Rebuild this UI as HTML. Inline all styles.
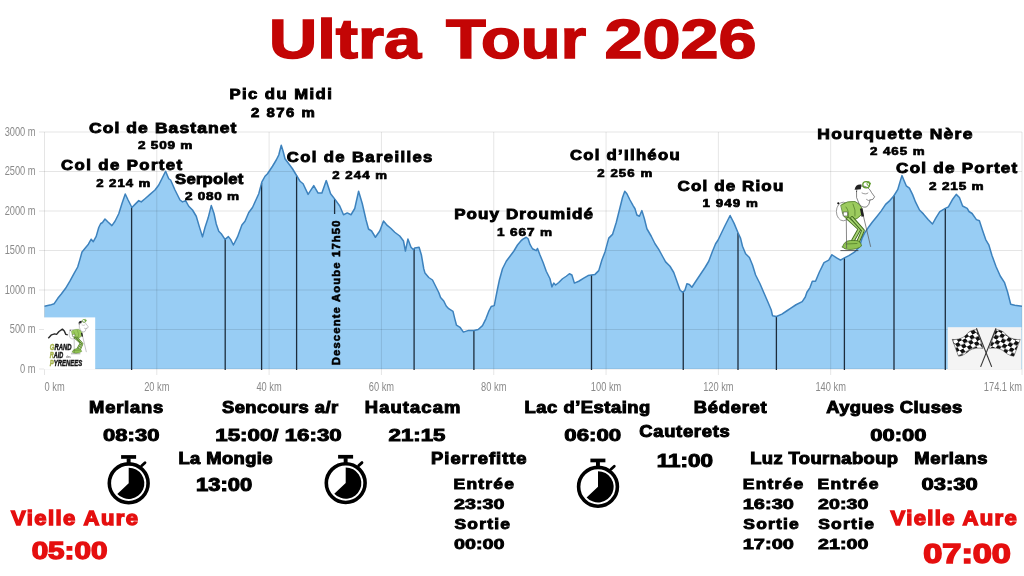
<!DOCTYPE html>
<html><head><meta charset="utf-8"><style>
html,body{margin:0;padding:0;background:#fff;}
body{width:1024px;height:576px;overflow:hidden;position:relative;font-family:"Liberation Sans",sans-serif;}
svg{position:absolute;left:0;top:0;filter:blur(0.4px);}
</style></head><body>
<svg width="1024" height="576" viewBox="0 0 1024 576">
<path d="M44.50,306.20 L50.00,305.10 L54.20,303.70 L57.80,298.30 L61.30,294.00 L65.60,288.30 L69.90,281.20 L74.10,273.40 L77.70,267.00 L79.80,259.90 L82.00,252.00 L85.50,247.80 L88.40,244.20 L91.20,239.20 L93.30,241.70 L96.20,236.40 L98.75,227.50 L100.60,223.75 L102.50,222.50 L105.00,219.00 L108.00,222.00 L111.90,225.60 L115.00,221.25 L118.75,213.75 L121.90,203.75 L125.25,194.00 L128.10,200.00 L131.90,207.50 L135.00,204.40 L138.75,200.60 L141.25,201.90 L145.00,198.75 L150.00,194.40 L155.00,190.00 L158.75,185.00 L161.90,178.75 L165.60,171.25 L168.75,178.75 L170.60,180.00 L175.00,190.00 L180.00,200.00 L182.50,201.90 L185.60,200.60 L188.75,206.25 L192.50,210.00 L196.25,216.25 L199.40,226.90 L202.50,236.90 L205.00,227.50 L208.10,218.10 L211.25,205.60 L214.00,213.50 L216.25,224.00 L218.75,231.25 L221.25,233.75 L225.00,239.40 L228.40,236.60 L230.60,239.40 L233.40,245.00 L237.50,236.90 L241.90,225.00 L245.00,221.25 L248.75,212.50 L252.50,207.50 L258.75,193.75 L261.90,181.90 L265.00,176.25 L267.50,173.75 L270.00,170.00 L272.50,166.25 L276.25,160.00 L278.75,155.00 L281.25,145.25 L283.10,151.25 L285.00,158.75 L288.75,163.75 L292.50,168.75 L296.25,175.00 L300.00,181.25 L303.10,183.75 L308.10,194.40 L313.75,185.60 L318.10,193.10 L321.90,193.10 L326.25,180.60 L330.60,193.75 L335.00,199.40 L339.75,206.00 L343.50,214.75 L347.25,212.90 L351.00,214.75 L354.75,208.50 L358.60,191.25 L362.25,203.50 L366.00,219.75 L368.50,229.00 L371.60,231.00 L375.40,237.25 L379.75,231.00 L383.50,221.00 L387.25,225.40 L391.00,228.50 L394.75,232.25 L399.75,236.00 L403.50,241.00 L405.40,251.00 L407.90,239.10 L411.00,247.25 L413.50,249.75 L414.75,247.90 L419.10,247.25 L421.40,255.00 L423.75,268.75 L425.00,273.10 L428.75,277.50 L432.50,280.00 L435.00,285.00 L438.75,292.50 L440.60,297.50 L443.75,301.00 L446.20,306.00 L448.70,308.70 L453.00,311.30 L454.75,318.60 L456.50,325.20 L460.00,327.30 L463.40,332.10 L468.60,330.40 L473.90,330.40 L478.20,329.50 L482.50,325.60 L486.00,318.60 L488.60,311.70 L491.20,306.50 L494.25,305.60 L495.60,298.70 L497.30,290.00 L499.40,280.00 L502.50,268.75 L506.25,261.25 L510.00,256.25 L513.75,251.25 L517.50,245.00 L521.25,240.60 L522.50,239.40 L526.25,237.25 L528.10,238.75 L530.00,244.40 L532.50,248.75 L536.25,250.60 L537.50,248.50 L540.00,255.00 L543.10,262.50 L546.25,271.25 L550.00,278.75 L551.90,286.90 L553.75,283.10 L555.60,285.00 L558.75,282.50 L562.50,278.75 L566.25,276.25 L569.40,273.75 L571.90,275.00 L574.40,283.10 L578.75,281.25 L583.75,278.10 L588.10,275.60 L591.50,275.00 L595.00,274.40 L598.75,270.60 L601.90,260.00 L605.00,251.90 L608.75,238.10 L612.50,234.40 L616.25,222.50 L620.00,207.50 L622.50,197.50 L624.75,191.25 L626.90,193.75 L630.00,200.00 L633.10,205.60 L635.00,208.75 L636.90,215.00 L639.40,216.25 L641.90,210.60 L644.40,218.75 L646.90,228.75 L651.25,236.25 L655.00,243.75 L658.75,249.40 L662.50,256.25 L665.60,261.90 L670.00,266.25 L673.75,272.50 L676.90,281.25 L680.00,290.00 L682.75,292.50 L685.00,290.00 L686.90,283.75 L689.40,284.40 L691.90,287.25 L695.00,282.50 L700.00,275.00 L705.00,267.50 L708.75,261.25 L712.50,251.25 L715.60,243.75 L718.10,240.00 L724.70,226.25 L730.10,215.50 L734.10,223.40 L737.80,232.30 L740.60,238.40 L742.50,246.25 L745.60,253.75 L749.40,257.50 L752.50,265.00 L755.60,275.00 L760.00,283.75 L763.75,292.50 L768.10,302.50 L771.25,310.00 L772.50,315.70 L776.40,316.50 L781.90,314.10 L786.60,311.00 L791.25,307.90 L796.00,304.75 L802.20,301.60 L805.30,297.00 L806.90,292.25 L810.00,287.60 L812.30,281.30 L815.50,281.30 L819.40,272.00 L824.00,262.60 L828.75,260.20 L831.90,254.75 L836.60,257.90 L840.50,260.20 L844.40,257.90 L848.90,255.60 L854.40,252.20 L859.40,246.70 L862.20,237.80 L864.40,233.30 L868.90,226.70 L872.20,222.20 L876.70,216.70 L881.10,211.10 L885.60,204.40 L889.80,200.60 L893.75,196.00 L897.70,189.70 L900.00,181.90 L902.00,175.60 L903.90,180.30 L906.25,185.80 L909.40,188.10 L912.50,194.40 L915.60,202.20 L919.50,210.00 L923.40,213.90 L928.10,219.40 L932.50,224.00 L935.90,217.80 L939.80,211.60 L945.30,208.40 L948.40,206.90 L952.30,199.80 L956.25,194.40 L959.40,197.50 L962.60,206.00 L967.20,208.40 L969.00,211.50 L972.10,213.50 L976.40,219.60 L979.40,220.80 L982.50,230.20 L985.70,239.60 L988.80,244.80 L991.90,255.20 L996.10,266.70 L1000.25,276.00 L1004.40,282.30 L1007.50,291.70 L1010.70,304.20 L1014.80,305.20 L1022.00,306.20 L1022,369.0 L44.5,369.0 Z" fill="#98cdf4"/>
<g stroke="#000" stroke-opacity="0.1" stroke-width="1"><line x1="39" y1="369.00" x2="1022" y2="369.00"/><line x1="39" y1="329.50" x2="1022" y2="329.50"/><line x1="39" y1="290.00" x2="1022" y2="290.00"/><line x1="39" y1="250.50" x2="1022" y2="250.50"/><line x1="39" y1="211.00" x2="1022" y2="211.00"/><line x1="39" y1="171.50" x2="1022" y2="171.50"/><line x1="39" y1="132.00" x2="1022" y2="132.00"/><line x1="44.50" y1="132" x2="44.50" y2="375"/><line x1="156.81" y1="132" x2="156.81" y2="375"/><line x1="269.12" y1="132" x2="269.12" y2="375"/><line x1="381.43" y1="132" x2="381.43" y2="375"/><line x1="493.74" y1="132" x2="493.74" y2="375"/><line x1="606.05" y1="132" x2="606.05" y2="375"/><line x1="718.36" y1="132" x2="718.36" y2="375"/><line x1="830.67" y1="132" x2="830.67" y2="375"/><line x1="1022.00" y1="132" x2="1022.00" y2="375"/></g>
<g stroke="#1c2c3c" stroke-width="1.3"><line x1="131.6" y1="206.91" x2="131.6" y2="370"/><line x1="225.2" y1="239.24" x2="225.2" y2="370"/><line x1="261.6" y1="183.03" x2="261.6" y2="370"/><line x1="296.6" y1="175.58" x2="296.6" y2="370"/><line x1="414.1" y1="248.86" x2="414.1" y2="370"/><line x1="473.9" y1="330.40" x2="473.9" y2="370"/><line x1="591.5" y1="275.00" x2="591.5" y2="370"/><line x1="683.25" y1="291.94" x2="683.25" y2="370"/><line x1="738" y1="232.74" x2="738" y2="370"/><line x1="776.4" y1="316.50" x2="776.4" y2="370"/><line x1="844.4" y1="257.90" x2="844.4" y2="370"/><line x1="894" y1="195.60" x2="894" y2="370"/><line x1="945.3" y1="208.40" x2="945.3" y2="370"/><line x1="334.6" y1="198.89" x2="334.6" y2="214"/></g>
<path d="M44.50,306.20 L50.00,305.10 L54.20,303.70 L57.80,298.30 L61.30,294.00 L65.60,288.30 L69.90,281.20 L74.10,273.40 L77.70,267.00 L79.80,259.90 L82.00,252.00 L85.50,247.80 L88.40,244.20 L91.20,239.20 L93.30,241.70 L96.20,236.40 L98.75,227.50 L100.60,223.75 L102.50,222.50 L105.00,219.00 L108.00,222.00 L111.90,225.60 L115.00,221.25 L118.75,213.75 L121.90,203.75 L125.25,194.00 L128.10,200.00 L131.90,207.50 L135.00,204.40 L138.75,200.60 L141.25,201.90 L145.00,198.75 L150.00,194.40 L155.00,190.00 L158.75,185.00 L161.90,178.75 L165.60,171.25 L168.75,178.75 L170.60,180.00 L175.00,190.00 L180.00,200.00 L182.50,201.90 L185.60,200.60 L188.75,206.25 L192.50,210.00 L196.25,216.25 L199.40,226.90 L202.50,236.90 L205.00,227.50 L208.10,218.10 L211.25,205.60 L214.00,213.50 L216.25,224.00 L218.75,231.25 L221.25,233.75 L225.00,239.40 L228.40,236.60 L230.60,239.40 L233.40,245.00 L237.50,236.90 L241.90,225.00 L245.00,221.25 L248.75,212.50 L252.50,207.50 L258.75,193.75 L261.90,181.90 L265.00,176.25 L267.50,173.75 L270.00,170.00 L272.50,166.25 L276.25,160.00 L278.75,155.00 L281.25,145.25 L283.10,151.25 L285.00,158.75 L288.75,163.75 L292.50,168.75 L296.25,175.00 L300.00,181.25 L303.10,183.75 L308.10,194.40 L313.75,185.60 L318.10,193.10 L321.90,193.10 L326.25,180.60 L330.60,193.75 L335.00,199.40 L339.75,206.00 L343.50,214.75 L347.25,212.90 L351.00,214.75 L354.75,208.50 L358.60,191.25 L362.25,203.50 L366.00,219.75 L368.50,229.00 L371.60,231.00 L375.40,237.25 L379.75,231.00 L383.50,221.00 L387.25,225.40 L391.00,228.50 L394.75,232.25 L399.75,236.00 L403.50,241.00 L405.40,251.00 L407.90,239.10 L411.00,247.25 L413.50,249.75 L414.75,247.90 L419.10,247.25 L421.40,255.00 L423.75,268.75 L425.00,273.10 L428.75,277.50 L432.50,280.00 L435.00,285.00 L438.75,292.50 L440.60,297.50 L443.75,301.00 L446.20,306.00 L448.70,308.70 L453.00,311.30 L454.75,318.60 L456.50,325.20 L460.00,327.30 L463.40,332.10 L468.60,330.40 L473.90,330.40 L478.20,329.50 L482.50,325.60 L486.00,318.60 L488.60,311.70 L491.20,306.50 L494.25,305.60 L495.60,298.70 L497.30,290.00 L499.40,280.00 L502.50,268.75 L506.25,261.25 L510.00,256.25 L513.75,251.25 L517.50,245.00 L521.25,240.60 L522.50,239.40 L526.25,237.25 L528.10,238.75 L530.00,244.40 L532.50,248.75 L536.25,250.60 L537.50,248.50 L540.00,255.00 L543.10,262.50 L546.25,271.25 L550.00,278.75 L551.90,286.90 L553.75,283.10 L555.60,285.00 L558.75,282.50 L562.50,278.75 L566.25,276.25 L569.40,273.75 L571.90,275.00 L574.40,283.10 L578.75,281.25 L583.75,278.10 L588.10,275.60 L591.50,275.00 L595.00,274.40 L598.75,270.60 L601.90,260.00 L605.00,251.90 L608.75,238.10 L612.50,234.40 L616.25,222.50 L620.00,207.50 L622.50,197.50 L624.75,191.25 L626.90,193.75 L630.00,200.00 L633.10,205.60 L635.00,208.75 L636.90,215.00 L639.40,216.25 L641.90,210.60 L644.40,218.75 L646.90,228.75 L651.25,236.25 L655.00,243.75 L658.75,249.40 L662.50,256.25 L665.60,261.90 L670.00,266.25 L673.75,272.50 L676.90,281.25 L680.00,290.00 L682.75,292.50 L685.00,290.00 L686.90,283.75 L689.40,284.40 L691.90,287.25 L695.00,282.50 L700.00,275.00 L705.00,267.50 L708.75,261.25 L712.50,251.25 L715.60,243.75 L718.10,240.00 L724.70,226.25 L730.10,215.50 L734.10,223.40 L737.80,232.30 L740.60,238.40 L742.50,246.25 L745.60,253.75 L749.40,257.50 L752.50,265.00 L755.60,275.00 L760.00,283.75 L763.75,292.50 L768.10,302.50 L771.25,310.00 L772.50,315.70 L776.40,316.50 L781.90,314.10 L786.60,311.00 L791.25,307.90 L796.00,304.75 L802.20,301.60 L805.30,297.00 L806.90,292.25 L810.00,287.60 L812.30,281.30 L815.50,281.30 L819.40,272.00 L824.00,262.60 L828.75,260.20 L831.90,254.75 L836.60,257.90 L840.50,260.20 L844.40,257.90 L848.90,255.60 L854.40,252.20 L859.40,246.70 L862.20,237.80 L864.40,233.30 L868.90,226.70 L872.20,222.20 L876.70,216.70 L881.10,211.10 L885.60,204.40 L889.80,200.60 L893.75,196.00 L897.70,189.70 L900.00,181.90 L902.00,175.60 L903.90,180.30 L906.25,185.80 L909.40,188.10 L912.50,194.40 L915.60,202.20 L919.50,210.00 L923.40,213.90 L928.10,219.40 L932.50,224.00 L935.90,217.80 L939.80,211.60 L945.30,208.40 L948.40,206.90 L952.30,199.80 L956.25,194.40 L959.40,197.50 L962.60,206.00 L967.20,208.40 L969.00,211.50 L972.10,213.50 L976.40,219.60 L979.40,220.80 L982.50,230.20 L985.70,239.60 L988.80,244.80 L991.90,255.20 L996.10,266.70 L1000.25,276.00 L1004.40,282.30 L1007.50,291.70 L1010.70,304.20 L1014.80,305.20 L1022.00,306.20" fill="none" stroke="#3d82bd" stroke-width="1.5" stroke-linejoin="round"/>
<g font-family="Liberation Sans" font-size="12" fill="#8a8a8a"><text x="35.6" y="373.00" text-anchor="end" transform="translate(35.6 0) scale(0.775 1) translate(-35.6 0)">0 m</text><text x="35.6" y="333.50" text-anchor="end" transform="translate(35.6 0) scale(0.775 1) translate(-35.6 0)">500 m</text><text x="35.6" y="294.00" text-anchor="end" transform="translate(35.6 0) scale(0.775 1) translate(-35.6 0)">1000 m</text><text x="35.6" y="254.50" text-anchor="end" transform="translate(35.6 0) scale(0.775 1) translate(-35.6 0)">1500 m</text><text x="35.6" y="215.00" text-anchor="end" transform="translate(35.6 0) scale(0.775 1) translate(-35.6 0)">2000 m</text><text x="35.6" y="175.50" text-anchor="end" transform="translate(35.6 0) scale(0.775 1) translate(-35.6 0)">2500 m</text><text x="35.6" y="136.00" text-anchor="end" transform="translate(35.6 0) scale(0.775 1) translate(-35.6 0)">3000 m</text><text x="44.50" y="390.8" text-anchor="start" transform="translate(44.50 0) scale(0.775 1) translate(-44.50 0)">0 km</text><text x="156.81" y="390.8" text-anchor="middle" transform="translate(156.81 0) scale(0.775 1) translate(-156.81 0)">20 km</text><text x="269.12" y="390.8" text-anchor="middle" transform="translate(269.12 0) scale(0.775 1) translate(-269.12 0)">40 km</text><text x="381.43" y="390.8" text-anchor="middle" transform="translate(381.43 0) scale(0.775 1) translate(-381.43 0)">60 km</text><text x="493.74" y="390.8" text-anchor="middle" transform="translate(493.74 0) scale(0.775 1) translate(-493.74 0)">80 km</text><text x="606.05" y="390.8" text-anchor="middle" transform="translate(606.05 0) scale(0.775 1) translate(-606.05 0)">100 km</text><text x="718.36" y="390.8" text-anchor="middle" transform="translate(718.36 0) scale(0.775 1) translate(-718.36 0)">120 km</text><text x="830.67" y="390.8" text-anchor="middle" transform="translate(830.67 0) scale(0.775 1) translate(-830.67 0)">140 km</text><text x="1022" y="390.8" text-anchor="end" transform="translate(1022 0) scale(0.775 1) translate(-1022 0)">174.1 km</text></g>
<g font-family="Liberation Sans" font-weight="bold"><text transform="translate(88.94 132.60) scale(1.1500 1)" font-size="15.2" letter-spacing="0.964" fill="#000" stroke="#000" stroke-width="0.922">Col de Bastanet</text><text transform="translate(138.05 149.30) scale(1.1500 1)" font-size="11.8" letter-spacing="0.658" fill="#000" stroke="#000" stroke-width="0.722">2 509 m</text><text transform="translate(61.07 170.00) scale(1.1500 1)" font-size="14.6" letter-spacing="1.204" fill="#000" stroke="#000" stroke-width="0.887">Col de Portet</text><text transform="translate(96.20 187.20) scale(1.1500 1)" font-size="11.5" letter-spacing="0.822" fill="#000" stroke="#000" stroke-width="0.704">2 214 m</text><text transform="translate(175.05 183.60) scale(1.1500 1)" font-size="14.5" letter-spacing="0.199" fill="#000" stroke="#000" stroke-width="0.887">Serpolet</text><text transform="translate(184.95 199.50) scale(1.1500 1)" font-size="11.8" letter-spacing="0.636" fill="#000" stroke="#000" stroke-width="0.722">2 080 m</text><text transform="translate(229.46 98.60) scale(1.1500 1)" font-size="14.5" letter-spacing="1.253" fill="#000" stroke="#000" stroke-width="0.887">Pic du Midi</text><text transform="translate(251.00 116.90) scale(1.1500 1)" font-size="13" letter-spacing="1.292" fill="#000" stroke="#000" stroke-width="0.791">2 876 m</text><text transform="translate(286.72 161.60) scale(1.1500 1)" font-size="14.5" letter-spacing="1.197" fill="#000" stroke="#000" stroke-width="0.887">Col de Bareilles</text><text transform="translate(332.25 178.80) scale(1.1500 1)" font-size="11.5" letter-spacing="0.917" fill="#000" stroke="#000" stroke-width="0.704">2 244 m</text><text transform="translate(454.17 219.00) scale(1.1500 1)" font-size="14.8" letter-spacing="0.956" fill="#000" stroke="#000" stroke-width="0.904">Pouy Droumidé</text><text transform="translate(496.91 235.60) scale(1.1500 1)" font-size="11.8" letter-spacing="0.795" fill="#000" stroke="#000" stroke-width="0.722">1 667 m</text><text transform="translate(569.92 160.30) scale(1.1500 1)" font-size="14.5" letter-spacing="1.136" fill="#000" stroke="#000" stroke-width="0.887">Col d’Ilhéou</text><text transform="translate(597.14 177.10) scale(1.1500 1)" font-size="11.5" letter-spacing="0.975" fill="#000" stroke="#000" stroke-width="0.704">2 256 m</text><text transform="translate(677.53 190.75) scale(1.1500 1)" font-size="14.8" letter-spacing="0.979" fill="#000" stroke="#000" stroke-width="0.904">Col de Riou</text><text transform="translate(702.60 207.40) scale(1.1500 1)" font-size="11.6" letter-spacing="0.914" fill="#000" stroke="#000" stroke-width="0.704">1 949 m</text><text transform="translate(817.28 138.80) scale(1.1500 1)" font-size="15.2" letter-spacing="1.138" fill="#000" stroke="#000" stroke-width="0.922">Hourquette Nère</text><text transform="translate(869.94 155.40) scale(1.1500 1)" font-size="11.6" letter-spacing="0.836" fill="#000" stroke="#000" stroke-width="0.704">2 465 m</text><text transform="translate(896.08 173.10) scale(1.1500 1)" font-size="14.8" letter-spacing="1.109" fill="#000" stroke="#000" stroke-width="0.904">Col de Portet</text><text transform="translate(929.05 190.00) scale(1.1500 1)" font-size="11.8" letter-spacing="0.701" fill="#000" stroke="#000" stroke-width="0.722">2 215 m</text><text transform="translate(89.09 412.80) scale(1.1500 1)" font-size="16" letter-spacing="0.661" fill="#000" stroke="#000" stroke-width="0.974">Merlans</text><text transform="translate(103.10 441.00) scale(1.2817 1)" font-size="17.2" letter-spacing="0.000" fill="#000" stroke="#000" stroke-width="0.936">08:30</text><text transform="translate(221.99 412.50) scale(1.1500 1)" font-size="16" letter-spacing="0.375" fill="#000" stroke="#000" stroke-width="0.974">Sencours a/r</text><text transform="translate(215.27 441.10) scale(1.2975 1)" font-size="17.2" letter-spacing="0.000" fill="#000" stroke="#000" stroke-width="0.925">15:00/ 16:30</text><text transform="translate(364.80 412.70) scale(1.1500 1)" font-size="16" letter-spacing="0.947" fill="#000" stroke="#000" stroke-width="0.974">Hautacam</text><text transform="translate(388.52 441.10) scale(1.2960 1)" font-size="17.2" letter-spacing="0.000" fill="#000" stroke="#000" stroke-width="0.926">21:15</text><text transform="translate(178.50 463.60) scale(1.1500 1)" font-size="16" letter-spacing="0.332" fill="#000" stroke="#000" stroke-width="0.974">La Mongie</text><text transform="translate(195.94 490.50) scale(1.2516 1)" font-size="17.6" letter-spacing="0.000" fill="#000" stroke="#000" stroke-width="0.983">13:00</text><text transform="translate(431.10 463.80) scale(1.1500 1)" font-size="16" letter-spacing="0.836" fill="#000" stroke="#000" stroke-width="0.974">Pierrefitte</text><text transform="translate(453.58 488.70) scale(1.1500 1)" font-size="15.2" letter-spacing="1.056" fill="#000" stroke="#000" stroke-width="0.922">Entrée</text><text transform="translate(454.08 509.10) scale(1.2981 1)" font-size="15.2" letter-spacing="0.000" fill="#000" stroke="#000" stroke-width="0.817">23:30</text><text transform="translate(454.45 529.00) scale(1.1500 1)" font-size="15.2" letter-spacing="1.068" fill="#000" stroke="#000" stroke-width="0.922">Sortie</text><text transform="translate(453.95 549.40) scale(1.3016 1)" font-size="15.2" letter-spacing="0.000" fill="#000" stroke="#000" stroke-width="0.814">00:00</text><text transform="translate(524.59 412.70) scale(1.1500 1)" font-size="16" letter-spacing="0.442" fill="#000" stroke="#000" stroke-width="0.974">Lac d’Estaing</text><text transform="translate(564.29 441.10) scale(1.2958 1)" font-size="17.2" letter-spacing="0.000" fill="#000" stroke="#000" stroke-width="0.926">06:00</text><text transform="translate(639.27 436.55) scale(1.1500 1)" font-size="16" letter-spacing="0.608" fill="#000" stroke="#000" stroke-width="0.974">Cauterets</text><text transform="translate(656.71 466.80) scale(1.2783 1)" font-size="17.6" letter-spacing="0.000" fill="#000" stroke="#000" stroke-width="0.962">11:00</text><text transform="translate(693.79 412.70) scale(1.1500 1)" font-size="16" letter-spacing="0.628" fill="#000" stroke="#000" stroke-width="0.974">Béderet</text><text transform="translate(826.20 412.70) scale(1.1500 1)" font-size="16" letter-spacing="0.349" fill="#000" stroke="#000" stroke-width="0.974">Aygues Cluses</text><text transform="translate(870.20 441.10) scale(1.2793 1)" font-size="17.2" letter-spacing="0.000" fill="#000" stroke="#000" stroke-width="0.938">00:00</text><text transform="translate(750.19 463.80) scale(1.1500 1)" font-size="16" letter-spacing="0.350" fill="#000" stroke="#000" stroke-width="0.974">Luz Tournaboup</text><text transform="translate(914.29 463.80) scale(1.1500 1)" font-size="16" letter-spacing="0.530" fill="#000" stroke="#000" stroke-width="0.974">Merlans</text><text transform="translate(742.78 488.70) scale(1.1500 1)" font-size="15.2" letter-spacing="1.056" fill="#000" stroke="#000" stroke-width="0.922">Entrée</text><text transform="translate(817.58 488.70) scale(1.1500 1)" font-size="15.2" letter-spacing="1.125" fill="#000" stroke="#000" stroke-width="0.922">Entrée</text><text transform="translate(742.74 509.10) scale(1.3174 1)" font-size="15.2" letter-spacing="0.000" fill="#000" stroke="#000" stroke-width="0.805">16:30</text><text transform="translate(818.08 509.10) scale(1.2955 1)" font-size="15.2" letter-spacing="0.000" fill="#000" stroke="#000" stroke-width="0.818">20:30</text><text transform="translate(743.35 529.00) scale(1.1500 1)" font-size="15.2" letter-spacing="1.033" fill="#000" stroke="#000" stroke-width="0.922">Sortie</text><text transform="translate(818.15 529.00) scale(1.1500 1)" font-size="15.2" letter-spacing="1.103" fill="#000" stroke="#000" stroke-width="0.922">Sortie</text><text transform="translate(742.74 549.40) scale(1.3174 1)" font-size="15.2" letter-spacing="0.000" fill="#000" stroke="#000" stroke-width="0.805">17:00</text><text transform="translate(818.08 549.40) scale(1.2955 1)" font-size="15.2" letter-spacing="0.000" fill="#000" stroke="#000" stroke-width="0.818">21:00</text><text transform="translate(921.53 490.10) scale(1.2640 1)" font-size="17.4" letter-spacing="0.000" fill="#000" stroke="#000" stroke-width="0.965">03:30</text><text transform="translate(269.07 58.40) scale(1.1868 1)" font-size="56.3" letter-spacing="0.000" fill="#c30505" stroke="#c30505" stroke-width="1.517">Ultra</text><text transform="translate(446.11 58.40) scale(1.1573 1)" font-size="56.3" letter-spacing="0.000" fill="#c30505" stroke="#c30505" stroke-width="1.555">Tour</text><text transform="translate(604.59 58.40) scale(1.2135 1)" font-size="56.3" letter-spacing="0.000" fill="#c30505" stroke="#c30505" stroke-width="1.483">2026</text><text transform="translate(10.92 524.80) scale(1.0600 1)" font-size="20.8" letter-spacing="1.368" fill="#e50f0f" stroke="#e50f0f" stroke-width="1.377">Vielle Aure</text><text transform="translate(31.63 559.30) scale(1.2356 1)" font-size="24" letter-spacing="0.000" fill="#e50f0f" stroke="#e50f0f" stroke-width="1.360">05:00</text><text transform="translate(890.62 524.60) scale(1.0600 1)" font-size="20.8" letter-spacing="1.265" fill="#e50f0f" stroke="#e50f0f" stroke-width="1.377">Vielle Aure</text><text transform="translate(923.23 563.00) scale(1.2257 1)" font-size="28" letter-spacing="0.000" fill="#e50f0f" stroke="#e50f0f" stroke-width="1.599">07:00</text></g>
<text font-family="Liberation Sans" font-weight="bold" font-size="11.2" letter-spacing="1.195" stroke="#000" stroke-width="0.6" transform="translate(340.1 364.9) rotate(-90)" x="-0.40" y="0">Descente Aoube 17h50</text>
<g transform="translate(128.7 483.3) scale(1.0)">
<circle r="19.4" fill="none" stroke="#000" stroke-width="3.6"/>
<rect x="-7.6" y="-28.2" width="15" height="3.7" fill="#000"/>
<rect x="-2" y="-25" width="3.9" height="5" fill="#000"/>
<line x1="13" y1="-17.5" x2="16.3" y2="-20.5" stroke="#000" stroke-width="2.8" stroke-linecap="round"/>
<path d="M0,0 L0,-15.6 A15.6,15.6 0 1 1 -11.4,10.6 Z" fill="#000"/>
</g>
<g transform="translate(345.7 483.1) scale(1.0)">
<circle r="19.4" fill="none" stroke="#000" stroke-width="3.6"/>
<rect x="-7.6" y="-28.2" width="15" height="3.7" fill="#000"/>
<rect x="-2" y="-25" width="3.9" height="5" fill="#000"/>
<line x1="13" y1="-17.5" x2="16.3" y2="-20.5" stroke="#000" stroke-width="2.8" stroke-linecap="round"/>
<path d="M0,0 L0,-15.6 A15.6,15.6 0 1 1 -11.4,10.6 Z" fill="#000"/>
</g>
<g transform="translate(598.0 486.8) scale(1.0)">
<circle r="19.4" fill="none" stroke="#000" stroke-width="3.6"/>
<rect x="-7.6" y="-28.2" width="15" height="3.7" fill="#000"/>
<rect x="-2" y="-25" width="3.9" height="5" fill="#000"/>
<line x1="13" y1="-17.5" x2="16.3" y2="-20.5" stroke="#000" stroke-width="2.8" stroke-linecap="round"/>
<path d="M0,0 L0,-15.6 A15.6,15.6 0 1 1 -11.4,10.6 Z" fill="#000"/>
</g>
<g>
<rect x="947.7" y="327.2" width="73.8" height="41.8" fill="#f4f4f4"/>
<defs>
<pattern id="chk" width="8" height="8" patternUnits="userSpaceOnUse" patternTransform="rotate(-28) skewX(8)">
<rect width="8" height="8" fill="#fff"/><rect width="4" height="4" fill="#111"/><rect x="4" y="4" width="4" height="4" fill="#111"/></pattern>
<pattern id="chk2" width="8" height="8" patternUnits="userSpaceOnUse" patternTransform="rotate(28) skewX(-8)">
<rect width="8" height="8" fill="#fff"/><rect width="4" height="4" fill="#111"/><rect x="4" y="4" width="4" height="4" fill="#111"/></pattern>
</defs>
<path d="M976.6,329.5 C972,330 968.5,331.5 966.5,334.5 C963.5,338 958,340 952.2,339.4 L958.5,356.2 C963,356 966.5,353 969.5,350.5 C973,348 978,347.8 983,348.3 Z" fill="url(#chk)" stroke="#333" stroke-width="0.5"/>
<path d="M995.8,329.5 C1000.4,330 1003.9,331.5 1005.9,334.5 C1008.9,338 1014.4,340 1020.2,339.4 L1013.9,356.2 C1009.4,356 1005.9,353 1002.9,350.5 C999.4,348 994.4,347.8 989.4,348.3 Z" fill="url(#chk2)" stroke="#333" stroke-width="0.5"/>
<line x1="976.4" y1="328.2" x2="991.7" y2="366.9" stroke="#333" stroke-width="1.1"/>
<line x1="996" y1="328.2" x2="980.6" y2="366.9" stroke="#333" stroke-width="1.1"/>
</g>
<defs><g id="hiker" stroke-linejoin="round" stroke-linecap="round">
<ellipse cx="843.3" cy="211.5" rx="6.9" ry="9.3" fill="#fff" stroke="#555" stroke-width="0.6"/>
<circle cx="838.3" cy="203.3" r="1.1" fill="#111"/>
<path d="M841,205 Q847,200.5 855,201.5 Q860,203.5 861.8,208 L862.2,214 Q858,219.5 850,221 Q844.5,219 842.5,213 Z" fill="#9ccb5e" stroke="#3f6a1c" stroke-width="0.7"/>
<path d="M846,207 Q850,212 848,219 M853,204 Q856,210 855,216" fill="none" stroke="#3f6a1c" stroke-width="0.6"/>
<rect x="843.5" y="212" width="4" height="4" fill="#fff" stroke="#333" stroke-width="0.5"/>
<path d="M848,218.5 L859.5,229 L853,240.5" stroke="#3f6a1c" stroke-width="3.6" fill="none"/>
<path d="M848,218.5 L859.5,229 L853,240.5" stroke="#a9d474" stroke-width="1.8" fill="none"/>
<path d="M852,218 L863,230.5 L858,242" stroke="#3f6a1c" stroke-width="3.6" fill="none"/>
<path d="M852,218 L863,230.5 L858,242" stroke="#a9d474" stroke-width="1.8" fill="none"/>
<path d="M842.5,247 Q844,241 850,240.5 L856,240.5 Q861,241 861.5,246 Q858,249.3 850,249.5 Q844,249.5 842.5,247 Z" fill="#8fc252" stroke="#3f6a1c" stroke-width="0.7"/>
<path d="M846,244 L857,243.5" stroke="#3f6a1c" stroke-width="0.6"/>
<line x1="840.8" y1="250.6" x2="858" y2="250.6" stroke="#333" stroke-width="0.8"/>
<line x1="846.3" y1="219" x2="846.6" y2="248" stroke="#555" stroke-width="0.7"/>
<line x1="862" y1="210" x2="870.6" y2="246.5" stroke="#555" stroke-width="0.7"/>
<rect x="860.6" y="208.5" width="2.6" height="8" fill="#222" transform="rotate(-12 862 212)"/>
<path d="M856.5,191.5 Q856.5,186 862,186 Q868.5,186 871.5,192.5 L874.6,196.8 Q873.5,200.3 870,200 Q869.5,205 866.5,207 Q861,208 858.8,203 Q855.5,198 856.5,191.5 Z" fill="#fff" stroke="#333" stroke-width="0.6"/>
<path d="M862,193 Q866,195 868,193 M866.5,199.5 Q868.5,201.5 870,200" fill="none" stroke="#333" stroke-width="0.5"/>
<path d="M854.6,189.8 Q855.5,183.8 861.5,184.6 L860.8,189.3 Z" fill="#222"/>
<ellipse cx="866.2" cy="184.8" rx="3.4" ry="3.1" fill="none" stroke="#5d9a2a" stroke-width="1.3"/>
<ellipse cx="868.6" cy="183.6" rx="1.6" ry="2" fill="none" stroke="#5d9a2a" stroke-width="0.9"/></g></defs>
<g>
<rect x="44" y="317.4" width="51.2" height="52" fill="#fff"/>
<polyline points="48.3,338.3 51.5,334.8 54.6,333.9 56.6,334.4 59,331.5 62.4,329.1 64.3,331 65.8,334.4 67.8,334.9" fill="none" stroke="#2a2a2a" stroke-width="1.4" stroke-linejoin="round"/>
<use href="#hiker" transform="translate(-349 228.5) scale(0.5)"/>
<g font-family="Liberation Sans" font-weight="bold" font-style="italic" fill="#151515" stroke="#151515" stroke-width="0.5">
<text font-size="9.9" transform="translate(49.8 350.4) scale(0.6 1)"><tspan fill="#a4b24a" stroke="#a4b24a">G</tspan>RAND</text>
<text font-size="9.2" transform="translate(49.8 357.7) scale(0.6 1)"><tspan fill="#a4b24a" stroke="#a4b24a">R</tspan>AID</text>
<text font-size="9.9" transform="translate(49.8 365.5) scale(0.6 1)"><tspan fill="#a4b24a" stroke="#a4b24a">P</tspan>YRENEES</text>
</g>
<text font-family="Liberation Sans" font-size="3" fill="#555" x="66" y="357.5">des</text>
</g>
<use href="#hiker"/>
</svg>
</body></html>
